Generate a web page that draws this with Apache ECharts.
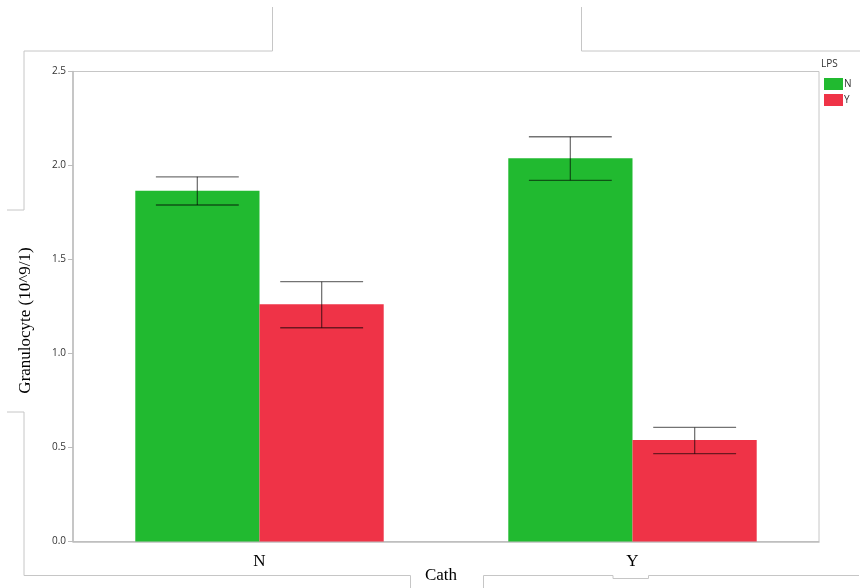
<!DOCTYPE html>
<html>
<head>
<meta charset="utf-8">
<script src="https://cdn.jsdelivr.net/npm/echarts@6/dist/echarts.min.js"></script>
<style>
  html, body { margin: 0; padding: 0; background: #fff; }
  #chart { width: 860px; height: 588px; }
</style>
</head>
<body>
<div id="chart"></div>
<script>
// Granulocyte count by catheter status (Cath), grouped by LPS
const categories = ['N', 'Y'];
const groupNames = ['N', 'Y'];

// Mean values
const lpsN = [1.866, 2.038];
const lpsY = [1.262, 0.540];

// Error bar limits (low / high)
const lpsNLow = [1.790, 1.921];
const lpsNHigh = [1.940, 2.153];
const lpsYLow = [1.137, 0.467];
const lpsYHigh = [1.382, 0.607];

const yTicks = [0, 0.5, 1.0, 1.5, 2.0, 2.5];

const GREEN = '#21BA30';
const RED = '#EF3347';
const FRAME = '#c6c6c6';

const chart = echarts.init(document.getElementById('chart'), null, { renderer: 'canvas' });

// Draws an error bar centred on a bar of a two-bar group
function errorRenderer(groupIndex) {
  return function (params, api) {
    const catIdx = api.value(0);
    const lo = api.coord([catIdx, api.value(1)]);
    const hi = api.coord([catIdx, api.value(2)]);
    const catWidth = api.size([1, 0])[0];
    const barW = catWidth / 3;
    const cx = lo[0] + (groupIndex === 0 ? -barW / 2 : barW / 2);
    const half = barW / 3;
    const style = { stroke: 'rgba(0,0,0,0.55)', lineWidth: 1.3 };
    return {
      type: 'group',
      children: [
        { type: 'line', shape: { x1: cx, y1: hi[1], x2: cx, y2: lo[1] }, style },
        { type: 'line', shape: { x1: cx - half, y1: hi[1], x2: cx + half, y2: hi[1] }, style },
        { type: 'line', shape: { x1: cx - half, y1: lo[1], x2: cx + half, y2: lo[1] }, style }
      ]
    };
  };
}

function poly(points) {
  return {
    type: 'polyline',
    silent: true,
    shape: { points: points },
    style: { stroke: FRAME, lineWidth: 1, fill: null }
  };
}

const option = {
  backgroundColor: '#ffffff',
  animation: false,
  title: {
    text: 'LPS',
    left: 821,
    top: 59,
    padding: 0,
    textStyle: { fontFamily: 'Open Sans', fontSize: 10, fontWeight: 'normal', color: '#333' }
  },
  legend: {
    data: groupNames,
    orient: 'vertical',
    left: 824,
    top: 78,
    padding: 0,
    itemWidth: 19,
    itemHeight: 12,
    itemGap: 4,
    icon: 'rect',
    textStyle: { fontFamily: 'Open Sans', fontSize: 10, color: '#333', padding: [0, 0, 0, -4] },
    selectedMode: false
  },
  grid: {
    left: 73,
    right: 41,
    top: 71.5,
    bottom: 46.5,
    outerBoundsMode: 'none',
    containLabel: false,
    show: true,
    borderColor: FRAME,
    borderWidth: 1,
    backgroundColor: 'transparent'
  },
  xAxis: {
    type: 'category',
    data: categories,
    name: 'Cath',
    nameLocation: 'middle',
    nameGap: 26,
    nameMoveOverlap: false,
    nameTextStyle: { fontFamily: 'Liberation Serif', fontSize: 17, color: '#000', padding: [0, 10, 0, 0] },
    axisLine: { lineStyle: { color: '#bdbdbd', width: 1.5 } },
    axisTick: { show: false },
    axisLabel: { fontFamily: 'Liberation Serif', fontSize: 17, color: '#000', margin: 12 }
  },
  yAxis: {
    type: 'value',
    min: yTicks[0],
    max: yTicks[yTicks.length - 1],
    interval: 0.5,
    name: 'Granulocyte (10^9/1)',
    nameLocation: 'middle',
    nameGap: 39,
    nameMoveOverlap: false,
    nameTextStyle: { fontFamily: 'Liberation Serif', fontSize: 17, color: '#000', padding: [0, 28, 0, 0] },
    axisLine: { show: true, lineStyle: { color: '#bdbdbd', width: 1.5 } },
    axisTick: { show: true, length: 5, lineStyle: { color: '#bdbdbd' } },
    axisLabel: {
      fontFamily: 'Open Sans',
      fontSize: 10,
      color: '#333',
      margin: 7,
      formatter: v => v.toFixed(1)
    },
    splitLine: { show: false }
  },
  series: [
    {
      name: groupNames[0],
      type: 'bar',
      data: lpsN,
      barGap: '0%',
      barCategoryGap: '33.4%',
      itemStyle: { color: GREEN },
      z: 2
    },
    {
      name: groupNames[1],
      type: 'bar',
      data: lpsY,
      barGap: '0%',
      barCategoryGap: '33.4%',
      itemStyle: { color: RED },
      z: 2
    },
    {
      name: 'errN',
      type: 'custom',
      renderItem: errorRenderer(0),
      data: categories.map((c, i) => [i, lpsNLow[i], lpsNHigh[i]]),
      encode: { x: 0, y: [1, 2] },
      z: 5
    },
    {
      name: 'errY',
      type: 'custom',
      renderItem: errorRenderer(1),
      data: categories.map((c, i) => [i, lpsYLow[i], lpsYHigh[i]]),
      encode: { x: 0, y: [1, 2] },
      z: 5
    }
  ],
  graphic: [
    // outer frame segments around the plotting panel
    poly([[24, 210], [24, 51], [272.5, 51], [272.5, 7]]),
    poly([[7, 210], [24, 210]]),
    poly([[7, 412], [24, 412], [24, 575.5], [410.5, 575.5], [410.5, 588]]),
    poly([[483.5, 588], [483.5, 575.5], [613, 575.5], [613, 578.5], [648.5, 578.5], [648.5, 575.5], [859, 575.5]]),
    poly([[581.5, 7], [581.5, 51], [860, 51]])
  ]
};

chart.setOption(option);
</script>
</body>
</html>
